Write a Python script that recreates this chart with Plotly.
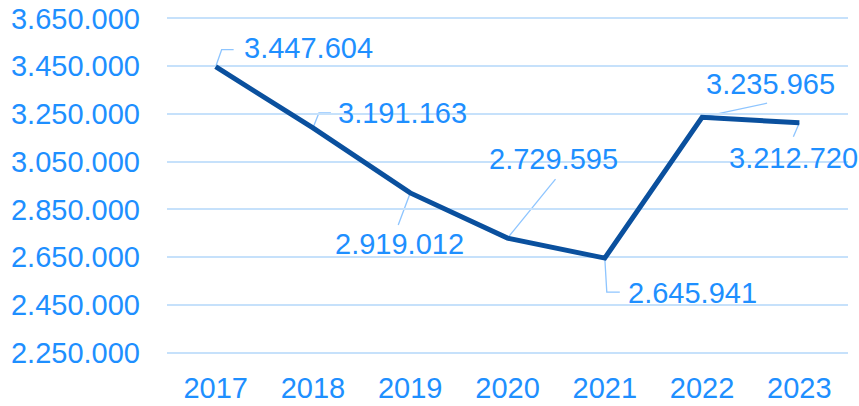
import plotly.graph_objects as go

years = ["2017", "2018", "2019", "2020", "2021", "2022", "2023"]
values = [3447604, 3191163, 2919012, 2729595, 2645941, 3235965, 3212720]
tick_vals = [2250000, 2450000, 2650000, 2850000, 3050000, 3250000, 3450000, 3650000]

# label offsets (pixels, up positive) and leader-line paths
label_shift = [(93, 19), (90, 15), (-11, -51), (46, 79), (88, -35), (68, 33), (-6, -35)]
leader_paths = [
    "M0,0 L6,17 L18,17",
    "M0,0 L6,15 L18,15",
    "M0,0 L-12,-32",
    "M0,0 L48,59",
    "M0,0 L2,-34 L15,-34",
    "M0,0 L65,14",
    "M0,0 L-6,-14",
]

TEXT = "#1E8FFF"
LEADER = "#8EC5FF"
GRID = "#C6E1FB"
LINE = "#0A509E"
FONT = "Liberation Sans, Arial, sans-serif"

def fmt(v):
    return f"{v:,}".replace(",", ".")

xs = list(range(len(years)))

fig = go.Figure()
fig.add_trace(go.Scatter(
    x=xs, y=values, mode="lines",
    line=dict(color=LINE, width=5),
    hoverinfo="skip",
))

for xi, v, (dx, dy), p in zip(xs, values, label_shift, leader_paths):
    fig.add_shape(type="path", xref="x", yref="y",
                  xsizemode="pixel", ysizemode="pixel",
                  xanchor=xi, yanchor=v, path=p,
                  line=dict(color=LEADER, width=1.3), layer="below")
    fig.add_annotation(x=xi, y=v, text=fmt(v), showarrow=False,
                       xshift=dx, yshift=dy,
                       font=dict(family=FONT, size=29, color=TEXT))

fig.update_layout(
    width=859, height=406,
    margin=dict(l=167, r=11, t=16, b=51, autoexpand=False),
    paper_bgcolor="white", plot_bgcolor="white",
    showlegend=False,
    font=dict(family=FONT, size=29, color=TEXT),
)
fig.update_xaxes(
    range=[-0.5, 6.5], tickvals=xs, ticktext=years,
    showgrid=False, showline=False, automargin=False,
    zeroline=False, ticks="", tickfont=dict(size=29, color=TEXT),
    ticklabelstandoff=13,
)
fig.update_yaxes(
    range=[2240000, 3660000], tickvals=tick_vals,
    ticktext=[fmt(t) for t in tick_vals], automargin=False,
    showgrid=True, gridcolor=GRID, gridwidth=1.5, zeroline=False,
    showline=False, ticks="", tickfont=dict(size=29, color=TEXT),
    ticklabelstandoff=26,
)

fig.write_html(
    "out.html",
    config={"displayModeBar": False},
    post_script="document.body.style.margin='0';document.body.style.overflow='hidden';",
)
